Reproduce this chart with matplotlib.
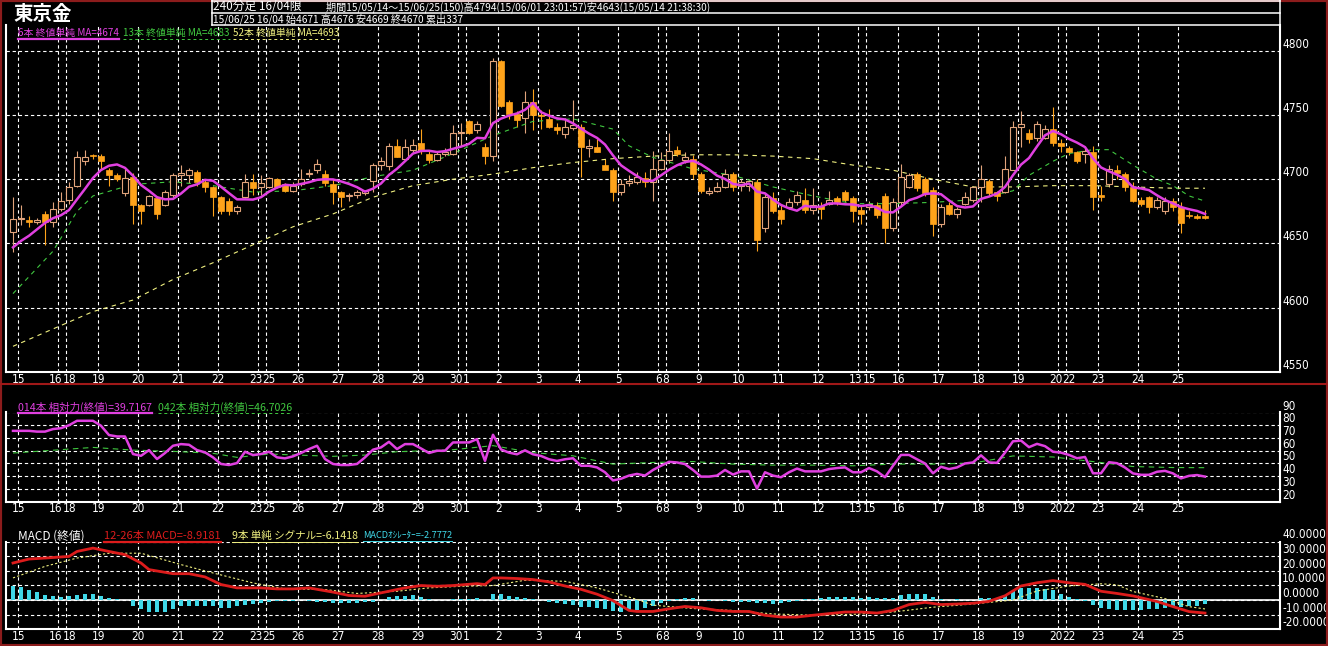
import numpy as np
import pandas as pd
import matplotlib
matplotlib.use('Agg')
import matplotlib.pyplot as plt
from matplotlib import font_manager
from matplotlib.lines import Line2D
from matplotlib.patches import Rectangle

W, H = 1328, 646
JP = ['Noto Sans CJK JP', 'DejaVu Sans']

# narrow font for the numbers if one is installed
_fonts = font_manager.fontManager.ttflist
if any(f.name == 'Liberation Sans Narrow' for f in _fonts):
    NUM = dict(family='Liberation Sans Narrow')
elif any(f.name == 'DejaVu Sans' and f.stretch == 'condensed' for f in _fonts):
    NUM = dict(family='DejaVu Sans', stretch='condensed')
else:
    NUM = dict(family='DejaVu Sans')

# 240-minute bars of Tokyo gold, 15/05/14 .. 15/06/25 (150 bars)
opens = [4659, 4669, 4668, 4667, 4673, 4667, 4677, 4684, 4695, 4714,
         4719, 4718, 4707, 4703, 4689, 4702, 4680, 4680, 4685, 4680,
         4688, 4703, 4703, 4706, 4698, 4694, 4686, 4683, 4675, 4686,
         4698, 4694, 4694, 4700, 4696, 4691, 4696, 4704, 4707, 4704,
         4696, 4690, 4687, 4688, 4689, 4699, 4711, 4710, 4726, 4716,
         4723, 4728, 4720, 4715, 4720, 4720, 4736, 4745, 4738, 4725,
         4718, 4792, 4760, 4751, 4748, 4760, 4750, 4747, 4741, 4735,
         4740, 4741, 4724, 4725, 4711, 4707, 4690, 4697, 4698, 4701,
         4698, 4708, 4715, 4723, 4715, 4716, 4704, 4689, 4691, 4694,
         4704, 4695, 4695, 4698, 4662, 4685, 4676, 4678, 4682, 4684,
         4676, 4679, 4681, 4685, 4690, 4685, 4676, 4678, 4680, 4687,
         4662, 4682, 4694, 4704, 4700, 4692, 4665, 4680, 4673, 4681,
         4684, 4694, 4699, 4690, 4690, 4707, 4741, 4736, 4732, 4732,
         4739, 4728, 4724, 4721, 4720, 4721, 4688, 4696, 4707, 4704,
         4694, 4684, 4686, 4678, 4675, 4683, 4678, 4672, 4671, 4671]
highs = [4686, 4680, 4671, 4670, 4675, 4682, 4690, 4698, 4722, 4723,
         4720, 4720, 4709, 4705, 4708, 4705, 4681, 4688, 4687, 4692,
         4705, 4711, 4709, 4707, 4700, 4695, 4687, 4685, 4680, 4704,
         4704, 4703, 4702, 4701, 4697, 4698, 4708, 4708, 4716, 4707,
         4700, 4691, 4689, 4692, 4692, 4713, 4717, 4728, 4731, 4731,
         4731, 4739, 4722, 4722, 4724, 4742, 4744, 4746, 4745, 4728,
         4794, 4793, 4762, 4753, 4769, 4770, 4754, 4755, 4744, 4748,
         4762, 4743, 4731, 4731, 4716, 4709, 4700, 4703, 4706, 4706,
         4722, 4721, 4736, 4726, 4721, 4719, 4706, 4694, 4698, 4708,
         4706, 4700, 4700, 4700, 4689, 4690, 4680, 4685, 4691, 4693,
         4693, 4682, 4691, 4687, 4692, 4687, 4680, 4683, 4682, 4689,
         4685, 4712, 4705, 4706, 4702, 4694, 4681, 4682, 4678, 4690,
         4695, 4711, 4700, 4691, 4718, 4745, 4753, 4739, 4745, 4742,
         4756, 4731, 4726, 4722, 4725, 4726, 4695, 4711, 4711, 4706,
         4698, 4686, 4687, 4686, 4686, 4685, 4682, 4675, 4673, 4676]
lows = [4643, 4664, 4663, 4665, 4649, 4663, 4675, 4681, 4694, 4711,
        4716, 4708, 4695, 4699, 4687, 4665, 4665, 4679, 4669, 4679,
        4686, 4695, 4697, 4695, 4690, 4671, 4673, 4672, 4673, 4685,
        4688, 4688, 4693, 4693, 4690, 4690, 4695, 4702, 4705, 4695,
        4681, 4678, 4683, 4685, 4688, 4690, 4707, 4707, 4717, 4714,
        4721, 4720, 4713, 4714, 4718, 4719, 4726, 4735, 4736, 4712,
        4714, 4756, 4747, 4741, 4736, 4738, 4739, 4740, 4735, 4732,
        4738, 4702, 4717, 4721, 4709, 4683, 4688, 4695, 4696, 4694,
        4683, 4707, 4713, 4718, 4713, 4700, 4689, 4688, 4690, 4693,
        4691, 4691, 4691, 4644, 4659, 4674, 4665, 4677, 4680, 4674,
        4673, 4669, 4680, 4680, 4682, 4667, 4665, 4676, 4670, 4650,
        4660, 4680, 4693, 4691, 4687, 4656, 4663, 4672, 4670, 4680,
        4682, 4682, 4687, 4683, 4689, 4707, 4725, 4728, 4730, 4731,
        4726, 4721, 4719, 4713, 4713, 4676, 4683, 4694, 4700, 4691,
        4682, 4679, 4674, 4677, 4673, 4675, 4658, 4670, 4669, 4669]
closes = [4669, 4670, 4667, 4668, 4667, 4677, 4683, 4694, 4717, 4717,
          4718, 4714, 4703, 4700, 4701, 4680, 4675, 4687, 4673, 4690,
          4703, 4705, 4707, 4698, 4694, 4686, 4675, 4675, 4678, 4698,
          4693, 4697, 4701, 4694, 4691, 4695, 4700, 4705, 4712, 4697,
          4690, 4686, 4688, 4690, 4691, 4711, 4714, 4726, 4717, 4725,
          4727, 4723, 4715, 4720, 4721, 4736, 4737, 4736, 4743, 4718,
          4792, 4757, 4751, 4746, 4760, 4750, 4749, 4741, 4738, 4741,
          4742, 4725, 4726, 4721, 4707, 4690, 4696, 4699, 4702, 4698,
          4708, 4715, 4722, 4720, 4717, 4704, 4691, 4691, 4694, 4704,
          4694, 4698, 4699, 4653, 4686, 4675, 4669, 4682, 4688, 4676,
          4680, 4677, 4684, 4682, 4684, 4675, 4673, 4681, 4672, 4662,
          4682, 4702, 4703, 4693, 4689, 4665, 4678, 4673, 4677, 4686,
          4694, 4700, 4689, 4687, 4708, 4741, 4743, 4731, 4743, 4739,
          4728, 4726, 4721, 4714, 4722, 4686, 4686, 4708, 4705, 4694,
          4683, 4681, 4678, 4684, 4683, 4678, 4666, 4671, 4670, 4670]

# 6-bar MA for the first bars (needs bars before the window)
ma6_head = [4647, 4652, 4656, 4661, 4666]

# 13-bar and 52-bar MA, read at sample bars
ma13_bar = [0, 5, 8, 10, 15, 20, 25, 30, 35, 40, 45, 50, 55, 60, 65, 70, 75, 77,
            80, 85, 90, 95, 100, 105, 110, 115, 120, 125, 127, 130, 132, 135,
            137, 140, 143, 145, 147, 149]
ma13_val = [4611, 4644, 4675, 4687, 4696, 4698, 4695, 4690, 4691, 4695, 4702,
            4707, 4720, 4734, 4745, 4747, 4739, 4726, 4717, 4708, 4703, 4694,
            4687, 4681, 4681, 4682, 4684, 4691, 4703, 4714, 4720, 4723, 4723,
            4711, 4700, 4695, 4687, 4683]
ma52_bar = [0, 10, 15, 20, 25, 30, 35, 38, 40, 45, 50, 55, 60, 65, 70, 75, 80,
            85, 90, 95, 100, 105, 110, 115, 120, 125, 130, 135, 140, 145, 149]
ma52_val = [4570, 4597, 4606, 4622, 4635, 4649, 4663, 4669, 4673, 4686, 4695,
            4700, 4704, 4709, 4713, 4716, 4718, 4719, 4719, 4718, 4716, 4711,
            4707, 4700, 4694, 4694, 4695, 4695, 4694, 4693, 4693]

# RSI 14 (every bar) and RSI 42 (sample bars)
rsi14 = [75.6, 75.6, 75.6, 75.0, 75.0, 77.0, 77.7, 80.0, 83.5, 83.5,
         83.5, 79.6, 72.3, 71.2, 71.2, 57.4, 56.0, 60.5, 53.5, 58.2,
         63.9, 65.2, 64.7, 60.5, 58.7, 54.8, 49.6, 48.8, 50.3, 59.2,
         56.6, 57.4, 59.2, 54.8, 54.0, 55.6, 58.2, 61.3, 63.9, 53.5,
         49.6, 48.8, 48.8, 49.6, 54.8, 60.8, 62.6, 67.0, 61.3, 65.2,
         65.2, 61.8, 58.2, 60.0, 60.0, 66.5, 66.5, 66.5, 69.1, 52.0,
         72.5, 61.0, 58.5, 57.2, 60.3, 57.2, 55.9, 53.3, 52.0, 53.3,
         54.1, 48.2, 48.2, 46.9, 43.1, 36.7, 38.0, 40.5, 41.8, 40.5,
         44.9, 48.2, 51.3, 50.8, 49.5, 44.9, 39.7, 39.7, 40.5, 44.9,
         41.3, 43.8, 43.8, 30.3, 43.1, 40.5, 39.2, 43.1, 46.0, 43.8,
         43.8, 43.8, 45.6, 46.4, 46.9, 43.1, 43.1, 46.4, 43.8, 39.2,
         48.2, 56.7, 56.7, 53.3, 50.0, 42.3, 47.4, 45.6, 46.9, 50.0,
         50.8, 56.4, 50.8, 50.5, 58.5, 67.4, 68.0, 62.8, 65.4, 63.6,
         59.2, 58.5, 56.7, 54.1, 55.1, 42.3, 42.3, 51.0, 50.2, 46.8,
         42.2, 41.1, 41.1, 43.5, 44.2, 42.2, 38.3, 40.3, 40.9, 39.7]
rsi42_bar = [0, 10, 15, 20, 25, 28, 32, 40, 44, 48, 55, 60, 65, 70, 75, 80, 85,
             90, 95, 100, 105, 110, 115, 120, 125, 130, 135, 140, 145, 149]
rsi42_val = [58.2, 62.6, 60.5, 59.5, 58.0, 54.8, 57.4, 55.6, 56.6, 59.2, 60.8,
             64.0, 58.5, 56.0, 49.5, 50.8, 51.5, 49.5, 48.7, 48.7, 48.2, 49.5,
             49.5, 50.3, 55.9, 55.1, 51.5, 47.6, 46.8, 46.7]

# MACD (12-26) and signal (9), read at sample bars; oscillator every bar
macd_bar = [0, 2, 4, 7, 8, 10, 12, 14, 16, 17, 20, 22, 24, 26, 28, 31, 33, 35,
            37, 40, 42, 44, 46, 49, 51, 53, 55, 58, 59, 60, 61, 63, 65, 67, 69,
            71, 73, 75, 76, 77, 78, 80, 82, 84, 86, 88, 90, 92, 94, 96, 98, 100,
            102, 104, 106, 108, 110, 112, 114, 116, 118, 120, 122, 124, 126,
            128, 130, 132, 134, 136, 138, 140, 143, 145, 147, 149]
macd_val = [25.3, 28.0, 28.7, 29.8, 33.2, 35.5, 33.2, 31.0, 25.3, 20.8, 18.0,
            18.0, 15.8, 10.6, 8.3, 8.3, 7.6, 7.6, 8.3, 5.4, 3.1, 2.6, 4.9, 8.3,
            9.9, 9.4, 9.9, 11.2, 10.6, 15.1, 15.1, 14.7, 14.0, 12.4, 9.6, 7.3,
            4.0, -0.4, -3.8, -7.1, -7.8, -7.8, -6.0, -4.4, -5.3, -7.1, -7.8,
            -7.8, -10.4, -11.6, -11.6, -10.4, -9.3, -8.2, -8.2, -8.9, -7.1,
            -3.1, -1.6, -3.1, -2.7, -2.2, -0.9, 2.9, 9.6, 11.8, 13.3, 11.8,
            10.7, 6.0, 4.5, 2.8, -1.0, -4.5, -7.9, -8.9]
signal_bar = [0, 4, 8, 12, 16, 21, 25, 30, 34, 39, 43, 48, 52, 56, 60, 64, 69,
              73, 78, 80, 85, 90, 95, 100, 105, 110, 115, 120, 125, 128, 132,
              136, 138, 140, 144, 147, 149]
signal_val = [15.1, 23.0, 28.7, 32.0, 32.0, 24.2, 18.5, 11.7, 7.6, 7.2, 4.5,
              6.0, 8.3, 9.4, 9.9, 13.5, 12.8, 8.3, 0.4, -3.5, -5.8, -7.1, -9.5,
              -10.4, -9.8, -8.2, -4.9, -2.7, 0.0, 6.2, 9.6, 11.1, 10.4, 5.8, 1.0,
              -4.5, -6.1]
osc = [9.7, 8.6, 7.0, 5.2, 3.4, 2.9, 1.8, 2.5, 3.4, 4.1,
       4.1, 2.9, 1.1, 0.5, 0.0, -3.8, -6.1, -8.4, -8.4, -7.9,
       -6.1, -4.3, -4.3, -3.8, -3.8, -4.3, -5.7, -5.7, -4.3, -3.4,
       -2.7, -2.0, -1.1, -0.5, -0.5, -0.5, 0.0, -0.5, -1.1, -1.6,
       -2.0, -2.0, -2.0, -2.0, -1.6, -1.1, 0.0, 1.8, 2.5, 2.5,
       3.4, 1.8, 0.5, 0.0, 0.0, 0.5, 0.5, 0.7, 1.1, 0.0,
       4.4, 4.4, 2.9, 2.2, 1.6, 0.4, 0.0, -1.1, -2.2, -2.7,
       -3.3, -4.9, -4.9, -5.6, -6.2, -7.8, -8.4, -7.8, -6.7, -5.6,
       -4.0, -2.2, -0.4, 0.4, 1.1, 1.1, 0.0, -0.4, 0.0, -0.4,
       -1.1, -1.1, -1.1, -2.2, -2.2, -2.7, -2.2, -1.1, -0.4, 0.4,
       0.4, 1.1, 1.8, 2.2, 2.2, 1.8, 1.1, 1.8, 1.1, 1.1,
       1.1, 3.3, 4.4, 4.4, 4.0, 1.8, 0.4, 0.0, 0.4, 0.0,
       0.0, 1.1, 1.1, 1.6, 3.3, 6.2, 8.4, 8.4, 8.4, 7.8,
       6.7, 4.4, 2.2, 0.4, -0.4, -3.3, -5.5, -6.0, -6.6, -6.6,
       -6.6, -6.6, -6.2, -6.2, -5.7, -5.0, -5.0, -4.3, -3.9, -2.8]

# first bar of each trading day and its label
day_first_bar = [1, 6, 7, 11, 16, 21, 26, 31, 32, 36, 41, 46, 51, 56, 57, 61,
                 66, 71, 76, 81, 82, 86, 91, 96, 101, 106, 107, 111, 116, 121,
                 126, 131, 132, 136, 141, 146]
day_labels = ['15', '16', '18', '19', '20', '21', '22', '23', '25', '26', '27',
              '28', '29', '30', '1', '2', '3', '4', '5', '6', '8', '9', '10',
              '11', '12', '13', '15', '16', '17', '18', '19', '20', '22', '23',
              '24', '25']

price_ticks = [4550, 4600, 4650, 4700, 4750, 4800]
rsi_ticks = [20, 30, 40, 50, 60, 70, 80, 90]
macd_ticks = [-20, -10, 0, 10, 20, 30, 40]

ORANGE = '#ffa31a'
TAN = '#e2a47c'
MAGENTA = '#e040e0'
GREEN = '#40c840'
YELLOW = '#f0f080'
RED = '#dd1c1c'
CYAN = '#40d8e8'
GRID = (0, (3, 2.5))


def fx(px):
    return px / W


def fy(py):
    return 1 - py / H


def panel(top, bottom, ylim, yticks, ylabels):
    ax = fig.add_axes([fx(6), fy(bottom), (1280 - 6) / W, (bottom - top) / H])
    ax.set_facecolor('black')
    ax.set_xlim(-0.875, 158.375)
    ax.set_ylim(*ylim)
    ax.spines['top'].set_visible(False)
    for s in ['left', 'bottom', 'right']:
        ax.spines[s].set_color('white')
        ax.spines[s].set_linewidth(1.5)
    ax.set_xticks([b - 0.33 for b in day_first_bar])
    ax.tick_params(axis='x', length=0, labelbottom=False)
    ax.yaxis.tick_right()
    ax.set_yticks(yticks, ylabels)
    ax.tick_params(axis='y', length=0, pad=1.5, colors='white', labelsize=8.5)
    for t in ax.get_yticklabels():
        t.set_va('bottom')
        t.set_fontproperties(font_manager.FontProperties(size=8.5, **NUM))
    ax.grid(True, color='white', ls=GRID, lw=0.8)
    ax.set_axisbelow(True)
    # day labels; labels of days one bar apart sit side by side
    pos = [b - 0.33 for b in day_first_bar]
    for i, (p, s) in enumerate(zip(pos, day_labels)):
        ha, xp = 'center', p
        if i + 1 < len(pos) and pos[i + 1] - p <= 1.01:
            ha, xp = 'right', p + 0.5
        elif i > 0 and p - pos[i - 1] <= 1.01:
            ha, xp = 'left', p - 0.5
        ax.annotate(s, xy=(xp, 0), xycoords=('data', 'axes fraction'),
                    xytext=(0, -0.5), textcoords='offset points', ha=ha,
                    va='top', color='white', fontsize=8.5, **NUM)
    return ax


fig = plt.figure(figsize=(W / 100, H / 100), dpi=100, facecolor='black')

x = np.arange(len(closes))
O = np.array(opens, float)
Hh = np.array(highs, float)
L = np.array(lows, float)
C = np.array(closes, float)

# ---- price panel
ax = panel(25, 372, (4550, 4820), price_ticks, [str(v) for v in price_ticks])

up = C >= O
body_lo = np.minimum(O, C)
body_h = np.maximum(np.abs(C - O), 0.5)
wick_col = [TAN if u else ORANGE for u in up]
ax.vlines(x, L, Hh, colors=wick_col, lw=0.8, zorder=3)
ax.bar(x[up], body_h[up], bottom=body_lo[up], width=0.72, facecolor='black',
       edgecolor=TAN, lw=0.8, zorder=4)
ax.bar(x[~up], body_h[~up], bottom=body_lo[~up], width=0.72, facecolor=ORANGE,
       edgecolor=ORANGE, lw=0.5, zorder=4)

ma6 = pd.Series(C).rolling(6).mean().to_numpy()
ma6[:len(ma6_head)] = ma6_head
ax.plot(ma52_bar, ma52_val, color=YELLOW, lw=0.8, ls=(0, (4, 4)), zorder=3)
ax.plot(ma13_bar, ma13_val, color=GREEN, lw=0.8, ls=(0, (4, 4)), zorder=3)
ax.plot(x, ma6, color=MAGENTA, lw=1.8, zorder=5)

# ---- RSI panel
ax2 = panel(412.5, 501.7, (20, 90), rsi_ticks, [str(v) for v in rsi_ticks])
ax2.plot(rsi42_bar, rsi42_val, color=GREEN, lw=0.8, ls=(0, (5, 4)), zorder=3)
ax2.plot(x, rsi14, color=MAGENTA, lw=1.8, zorder=4)

# ---- MACD panel
ax3 = panel(541.5, 629.3, (-20, 40), macd_ticks, ['%.4f' % v for v in macd_ticks])
ax3.axhline(0, color='white', lw=1.2, zorder=2)
ax3.bar(x, osc, width=0.38, color=CYAN, zorder=3)
ax3.plot(signal_bar, signal_val, color=YELLOW, lw=0.8, ls=(0, (2, 2)), zorder=4)
ax3.plot(macd_bar, macd_val, color=RED, lw=2.0, zorder=5)

# ---- header and legends
texts = []


def label(px, py, s, color, size, under=None, **kw):
    t = fig.text(fx(px), fy(py), s, color=color, fontsize=size, ha='left',
                 va='center', family=JP, **kw)
    texts.append((t, under))
    return t


label(13, 15, '東京金', 'white', 14, weight='bold')
label(213, 6.5, '240分足 16/04限', 'white', 8.5)
label(326, 7, '期間15/05/14～15/06/25(150)高4794(15/06/01 23:01:57)'
      '安4643(15/05/14 21:38:30)', 'white', 7.3)
label(213, 19, '15/06/25 16/04 始4671 高4676 安4669 終4670 累出337', 'white', 7.3)

label(18, 33, '6本 終値単純 MA=4674', MAGENTA, 7.1, under=('-', 1.6))
label(123, 33, '13本 終値単純 MA=4683', GREEN, 7.1, under=((0, (3, 3)), 0.7))
label(233, 33, '52本 終値単純 MA=4693', YELLOW, 7.1, under=((0, (3, 3)), 0.7))

label(18, 407, '014本 相対力(終値)=39.7167', MAGENTA, 7.6, under=('-', 1.6))
label(158, 407, '042本 相対力(終値)=46.7026', GREEN, 7.6, under=((0, (3, 3)), 0.7))

label(18, 536, 'MACD (終値)', 'white', 8.5)
label(104, 536, '12-26本 MACD=-8.9181', RED, 8, under=('-', 1.6))
label(232, 536, '9本 単純 シグナル=-6.1418', YELLOW, 7.6, under=('-', 0.7))
label(363, 536, 'MACDｵｼﾚｰﾀｰ=-2.7772', CYAN, 6.6, under=('-', 0.7))

fig.canvas.draw()
rend = fig.canvas.get_renderer()
for t, under in texts:
    if under is None:
        continue
    bb = t.get_window_extent(rend)
    yy = (bb.y0 - 0.5) / H
    fig.add_artist(Line2D([bb.x0 / W, bb.x1 / W], [yy, yy], color=t.get_color(),
                          lw=under[1], ls=under[0], transform=fig.transFigure))

# header box
hl = dict(color='white', lw=1.1, transform=fig.transFigure)
for yy in [1, 12.5, 25]:
    fig.add_artist(Line2D([fx(212), fx(1280)], [fy(yy), fy(yy)], **hl))
for xx in [212, 1279.5]:
    fig.add_artist(Line2D([fx(xx), fx(xx)], [fy(0), fy(25)], **hl))

# red frame and separator
fig.add_artist(Line2D([0, 1], [fy(384), fy(384)], color='#a01818', lw=1.5,
                      transform=fig.transFigure))
fig.add_artist(Rectangle((0, 0), 1, 1, transform=fig.transFigure, fill=False,
                         edgecolor='#8c1c1c', lw=3))

fig.savefig('out.png', dpi=100, facecolor='black')
